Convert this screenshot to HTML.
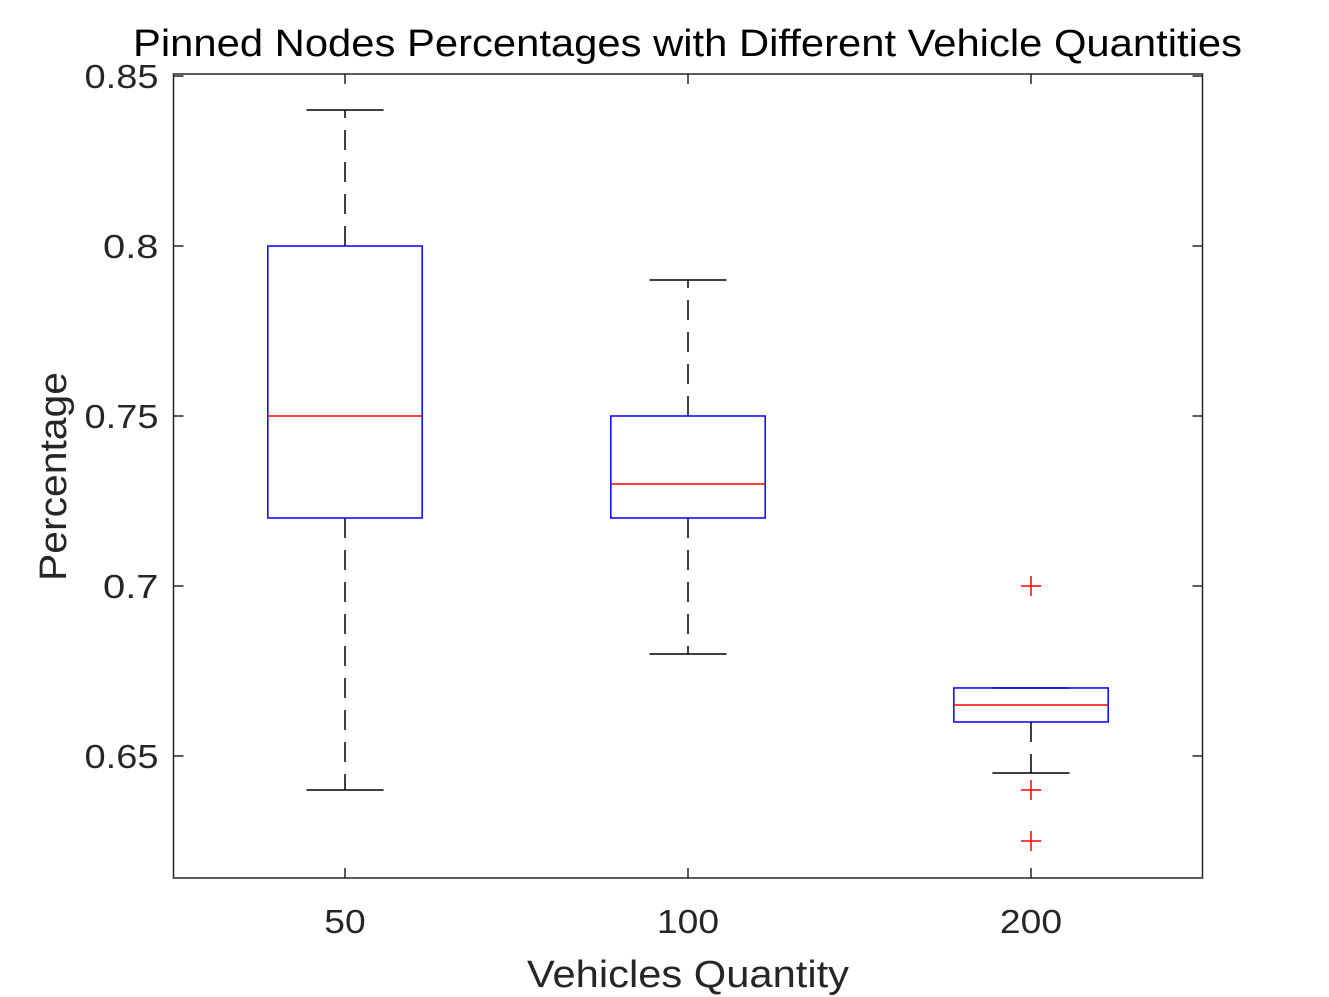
<!DOCTYPE html>
<html><head><meta charset="utf-8"><style>
html,body{margin:0;padding:0;background:#fff;}
svg{display:block;font-family:"Liberation Sans",sans-serif;}
</style></head><body>
<svg id="chart" width="1329" height="997" viewBox="0 0 1329 997" xmlns="http://www.w3.org/2000/svg">
<rect width="1329" height="997" fill="#fff"/>
<text x="133" y="56" textLength="1109" lengthAdjust="spacingAndGlyphs" font-size="38" fill="#000">Pinned Nodes Percentages with Different Vehicle Quantities</text>
<text x="527" y="987" textLength="322" lengthAdjust="spacingAndGlyphs" font-size="38" fill="#262626">Vehicles Quantity</text>
<text transform="translate(66,581) rotate(-90)" textLength="209" lengthAdjust="spacingAndGlyphs" font-size="38" fill="#262626">Percentage</text>
<g id="plot"></g>
</svg>
<script>
const categories = ["50","100","200"];
const q1 = [0.72, 0.72, 0.66];
const medians = [0.75, 0.73, 0.665];
const q3 = [0.80, 0.75, 0.67];
const whiskerLow = [0.64, 0.68, 0.645];
const whiskerHigh = [0.84, 0.79, 0.67];
const outliers = [[], [], [0.70, 0.64, 0.625]];
const yTicks = [0.65, 0.7, 0.75, 0.8, 0.85];
const yTickLabels = ["0.65","0.7","0.75","0.8","0.85"];

const L=173.5, R=1202.5, T=74, B=878;
const yMin=0.6141, yMax=0.8506;
const y = v => B - (v - yMin) / (yMax - yMin) * (B - T);
const cx = i => L + (i + 0.5) * (R - L) / categories.length;
const unit = (R - L) / categories.length;
const ns = "http://www.w3.org/2000/svg";
const g = document.getElementById('plot');
function mk(tag, attrs){const e=document.createElementNS(ns,tag);for(const k in attrs)e.setAttribute(k,attrs[k]);g.appendChild(e);return e;}

const frame = mk('rect',{x:L,y:T,width:R-L,height:B-T,fill:'none',stroke:'#262626','stroke-width':1.5});



yTicks.forEach((t,i)=>{
  const yy=y(t);
  const a=mk('line',{x1:L,x2:L+10,y1:yy,y2:yy,stroke:'#262626','stroke-width':1.5});
  
  
  const b=mk('line',{x1:R-10,x2:R,y1:yy,y2:yy,stroke:'#262626','stroke-width':1.5});
  
  
  const lab=yTickLabels[i];
  const tw=lab.length*18.5;
  const tx=mk('text',{x:L-15-tw,y:yy+12,textLength:tw,lengthAdjust:'spacingAndGlyphs','font-size':33,fill:'#262626'});
  tx.textContent=lab;
  
  
});

categories.forEach((c,i)=>{
  const xx=cx(i);
  const a=mk('line',{x1:xx,x2:xx,y1:B,y2:B-10,stroke:'#262626','stroke-width':1.5});
  
  
  const b=mk('line',{x1:xx,x2:xx,y1:T,y2:T+10,stroke:'#262626','stroke-width':1.5});
  
  
  const tw=c.length*20.7;
  const tx=mk('text',{x:xx-tw/2,y:B+55,textLength:tw,lengthAdjust:'spacingAndGlyphs','font-size':33,fill:'#262626'});
  tx.textContent=c;
  
  

  const hw=0.225*unit, cw=0.1125*unit;
  const w1=mk('line',{x1:xx,x2:xx,y1:y(q3[i]),y2:y(whiskerHigh[i]),stroke:'#000','stroke-width':1.5,'stroke-dasharray':'20,12'});
  
  
  const w2=mk('line',{x1:xx,x2:xx,y1:y(q1[i]),y2:y(whiskerLow[i]),stroke:'#000','stroke-width':1.5,'stroke-dasharray':'20,12'});
  
  
  const c1=mk('line',{x1:xx-cw,x2:xx+cw,y1:y(whiskerHigh[i]),y2:y(whiskerHigh[i]),stroke:'#000','stroke-width':1.5});
  
  
  const c2=mk('line',{x1:xx-cw,x2:xx+cw,y1:y(whiskerLow[i]),y2:y(whiskerLow[i]),stroke:'#000','stroke-width':1.5});
  
  
  const bx=mk('rect',{x:xx-hw,y:y(q3[i]),width:2*hw,height:y(q1[i])-y(q3[i]),fill:'none',stroke:'#0000ff','stroke-width':1.5});
  
  
  const md=mk('line',{x1:xx-hw,x2:xx+hw,y1:y(medians[i]),y2:y(medians[i]),stroke:'#ff0000','stroke-width':1.5});
  
  
  outliers[i].forEach(o=>{
    const p=mk('path',{d:`M${xx-10},${y(o)}H${xx+10}M${xx},${y(o)-10}V${y(o)+10}`,stroke:'#ff0000','stroke-width':1.5,fill:'none'});
    
    
  });
});
</script>
</body></html>
